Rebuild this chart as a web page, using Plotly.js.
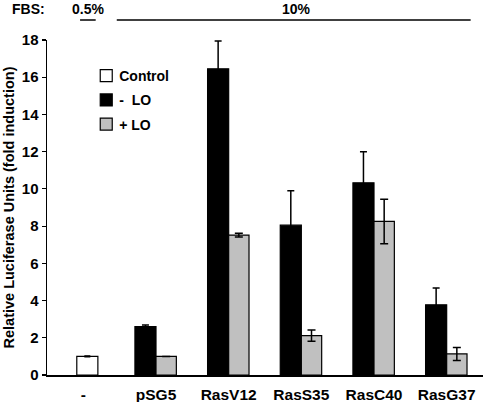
<!DOCTYPE html>
<html>
<head>
<meta charset="utf-8">
<script src="https://cdn.plot.ly/plotly-3.0.1.min.js"></script>
<style>html,body{margin:0;padding:0;background:#fff;}#chart{width:483px;height:402px;}</style>
</head>
<body>
<div id="chart"></div>
<script>
const categories = ["-", "pSG5", "RasV12", "RasS35", "RasC40", "RasG37"];
const controlCats = ["-"];
const controlValues = [1.0];
const controlErrors = [0.02];
const loCats = ["pSG5", "RasV12", "RasS35", "RasC40", "RasG37"];
const minusLO = [2.6, 16.45, 8.05, 10.33, 3.77];
const minusLOErr = [0.09, 1.5, 1.85, 1.67, 0.9];
const plusLO = [1.0, 7.52, 2.12, 8.25, 1.13];
const plusLOErr = [0.0, 0.1, 0.3, 1.2, 0.35];
const yTicks = [0, 2, 4, 6, 8, 10, 12, 14, 16, 18];

const F = "Arial, 'Liberation Sans', sans-serif";
const B = s => "<b>" + s + "</b>";

const traces = [
  {type: "bar", name: B("Control"), x: controlCats, y: controlValues, legendgroup: "a",
   offset: -0.09, width: 0.29,
   marker: {color: "#ffffff", line: {color: "#000", width: 1.2}},
   error_y: {type: "data", array: controlErrors, visible: true, color: "#000", thickness: 1.5, width: 3}},
  {type: "bar", name: B("-\u00a0 LO"), x: loCats, y: minusLO, legendgroup: "b",
   offset: -0.29, width: 0.29,
   marker: {color: "#000000", line: {color: "#000", width: 1.2}},
   error_y: {type: "data", array: minusLOErr, visible: true, color: "#000", thickness: 1.5, width: 3.5}},
  {type: "bar", name: B("+ LO"), x: loCats, y: plusLO, legendgroup: "c",
   offset: 0, width: 0.28,
   marker: {color: "#c0c0c0", line: {color: "#000", width: 1.2}},
   error_y: {type: "data", array: plusLOErr, visible: true, color: "#000", thickness: 1.5, width: 4}}
];

const lineY = (375 - 20) / 335;
const textY = (375 - 9) / 335;
const tf = {family: F, size: 14, color: "#000"};

const layout = {
  width: 483, height: 402,
  margin: {l: 47, r: 0, t: 40, b: 27},
  paper_bgcolor: "#fff", plot_bgcolor: "#fff",
  barmode: "overlay",
  font: {family: F, size: 13, color: "#000"},
  showlegend: true,
  legend: {x: 0.09, y: 0.94, xanchor: "left", yanchor: "top",
    bgcolor: "rgba(0,0,0,0)", font: {family: F, size: 14, color: "#000"},
    traceorder: "grouped", tracegroupgap: 3, itemwidth: 30},
  xaxis: {type: "category", categoryorder: "array", categoryarray: categories,
    tickvals: categories, ticktext: categories.map(B),
    range: [-0.5, 5.5], showline: true, linecolor: "#000", linewidth: 1.5,
    ticks: "", showgrid: false, zeroline: false, automargin: false,
    ticklabelstandoff: 5,
    tickfont: {family: F, size: 15.5, color: "#000"}},
  yaxis: {range: [0, 18], tickvals: yTicks, ticktext: yTicks.map(v => B(String(v))),
    showline: true, linecolor: "#000", linewidth: 1.5, ticks: "outside", ticklen: 4,
    tickcolor: "#000", tickwidth: 1.2, showgrid: false, zeroline: false, automargin: false,
    tickfont: {family: F, size: 15, color: "#000"},
    title: {text: B("Relative Luciferase Units (fold induction)"), standoff: 3,
      font: {family: F, size: 14.5, color: "#000"}}},
  shapes: [
    {type: "line", xref: "x", yref: "paper", x0: -0.045, x1: 0.17, y0: lineY, y1: lineY, line: {color: "#000", width: 1.5}},
    {type: "line", xref: "x", yref: "paper", x0: 0.46, x1: 5.33, y0: lineY, y1: lineY, line: {color: "#000", width: 1.5}}
  ],
  annotations: [
    {text: B("FBS:"), xref: "paper", yref: "paper", x: -0.042, y: textY, showarrow: false, xanchor: "center", yanchor: "middle", font: tf},
    {text: B("0.5%"), xref: "x", yref: "paper", x: 0.065, y: textY, showarrow: false, xanchor: "center", yanchor: "middle", font: tf},
    {text: B("10%"), xref: "x", yref: "paper", x: 2.93, y: textY, showarrow: false, xanchor: "center", yanchor: "middle", font: tf}
  ]
};

Plotly.newPlot("chart", traces, layout, {staticPlot: true, displayModeBar: false}).then(gd => {
  gd.querySelectorAll(".legend .legendtext").forEach(t => {
    t.setAttribute("x", "33");
    t.querySelectorAll("tspan[x]").forEach(s => s.setAttribute("x", "33"));
  });
});
</script>
</body>
</html>
